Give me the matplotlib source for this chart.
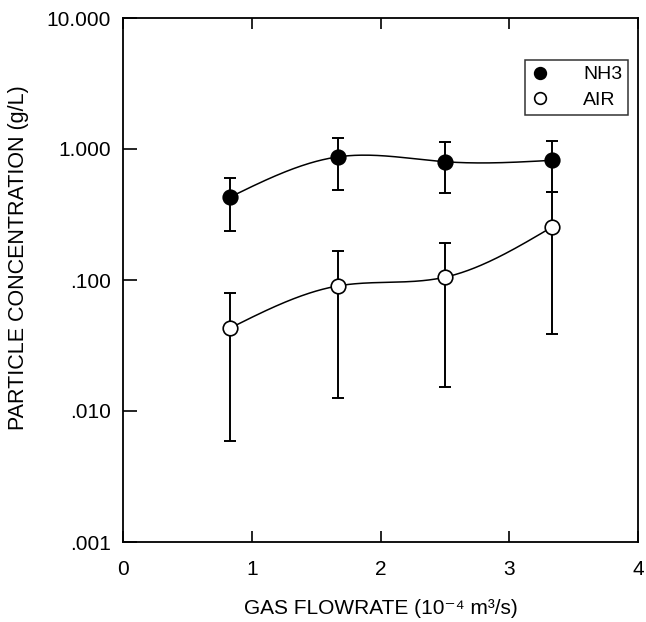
import numpy as np
import matplotlib
matplotlib.use("Agg")
import matplotlib.pyplot as plt

# ---- data ----
flow = [0.833, 1.667, 2.5, 3.333]
nh3_mean = [0.43, 0.87, 0.80, 0.82]
nh3_hi = [0.60, 1.21, 1.13, 1.15]
nh3_lo = [0.237, 0.49, 0.46, 0.47]
air_mean = [0.043, 0.090, 0.105, 0.254]
air_hi = [0.080, 0.166, 0.19, 0.47]
air_lo = [0.0059, 0.0126, 0.0153, 0.039]
yticks = [0.001, 0.01, 0.1, 1.0, 10.0]
ytick_labels = [".001", ".010", ".100", "1.000", "10.000"]
xticks = [0, 1, 2, 3, 4]
xtick_labels = ["0", "1", "2", "3", "4"]
series_names = ["NH3", "AIR"]

plt.rcParams['font.family'] = ['Liberation Sans', 'DejaVu Sans']


def natural_spline(x, y, n=200):
    x = np.asarray(x, float)
    y = np.asarray(y, float)
    m = len(x)
    h = np.diff(x)
    A = np.zeros((m, m))
    b = np.zeros(m)
    A[0, 0] = 1
    A[-1, -1] = 1
    for i in range(1, m - 1):
        A[i, i - 1] = h[i - 1]
        A[i, i] = 2 * (h[i - 1] + h[i])
        A[i, i + 1] = h[i]
        b[i] = 6 * ((y[i + 1] - y[i]) / h[i] - (y[i] - y[i - 1]) / h[i - 1])
    M = np.linalg.solve(A, b)
    xs = np.linspace(x[0], x[-1], n)
    ys = np.empty_like(xs)
    for k, xv in enumerate(xs):
        i = min(np.searchsorted(x, xv, side='right') - 1, m - 2)
        i = max(i, 0)
        t1 = x[i + 1] - xv
        t0 = xv - x[i]
        ys[k] = (M[i] * t1 ** 3 / (6 * h[i]) + M[i + 1] * t0 ** 3 / (6 * h[i])
                 + (y[i] / h[i] - M[i] * h[i] / 6) * t1
                 + (y[i + 1] / h[i] - M[i + 1] * h[i] / 6) * t0)
    return xs, ys


fig = plt.figure(figsize=(6.46, 6.22), dpi=100)
ax = fig.add_axes([123 / 646, 80 / 622, 515 / 646, 524 / 622])

for mean, hi, lo, face, name in [(nh3_mean, nh3_hi, nh3_lo, 'black', series_names[0]),
                                 (air_mean, air_hi, air_lo, 'white', series_names[1])]:
    mean_a = np.array(mean)
    yerr = np.vstack([mean_a - np.array(lo), np.array(hi) - mean_a])
    xs, ys = natural_spline(flow, np.log10(mean))
    ax.plot(xs, 10 ** ys, color='black', lw=1.1, zorder=2)
    ax.errorbar(flow, mean, yerr=yerr, fmt='none', ecolor='black', elinewidth=1.4,
                capsize=4.3, capthick=1.4, zorder=3)
    ax.plot(flow, mean, 'o', ms=10.5, mfc=face, mec='black', mew=1.2, zorder=4,
            label=name, linestyle='none')

ax.set_yscale('log')
ax.set_ylim(0.001, 10)
ax.set_xlim(0, 4)
ax.set_yticks(yticks)
ax.set_yticklabels(ytick_labels)
ax.yaxis.set_minor_locator(matplotlib.ticker.NullLocator())
ax.set_xticks(xticks)
ax.set_xticklabels(xtick_labels)
ax.tick_params(axis='y', direction='in', length=10, width=1.2, labelsize=15, pad=8.5,
               left=True, right=False)
ax.tick_params(axis='x', direction='in', length=8, width=1.2, labelsize=15, pad=13,
               top=True, bottom=True)
for s in ax.spines.values():
    s.set_linewidth(1.3)

ax.set_xlabel("GAS FLOWRATE (10\u207b\u2074 m\u00b3/s)", fontsize=15, labelpad=14)
ax.set_ylabel("PARTICLE CONCENTRATION (g/L)", fontsize=15.5)
ax.yaxis.set_label_coords(-0.183, 0.542)

leg = ax.legend(loc='upper right', bbox_to_anchor=(0.981, 0.92), fontsize=14,
                frameon=True, fancybox=False, edgecolor='black', handletextpad=1.8,
                markerscale=0.8, borderpad=0.3, labelspacing=0.4, handlelength=0.9,
                borderaxespad=0)
leg.get_frame().set_linewidth(1.1)

fig.savefig("out.png", dpi=100)
